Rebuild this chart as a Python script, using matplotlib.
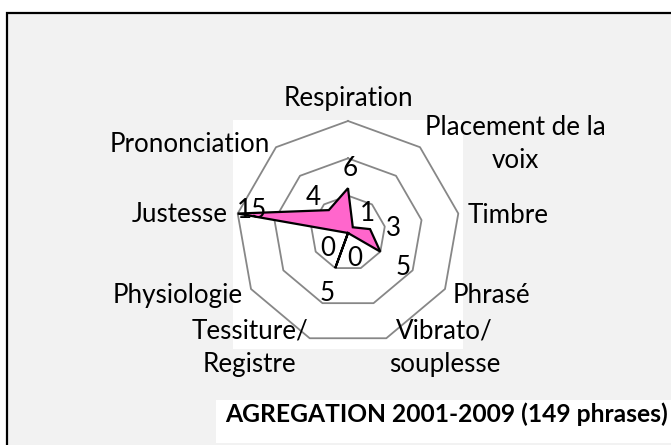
import numpy as np
import matplotlib
matplotlib.use('Agg')
import matplotlib.pyplot as plt
from matplotlib.patches import Rectangle

plt.rcParams['font.family'] = ['Lato', 'DejaVu Sans']

# data, clockwise from the top
categories = ['Respiration', 'Placement de la\nvoix', 'Timbre', 'Phrasé', 'Vibrato/\nsouplesse',
              'Tessiture/\nRegistre', 'Physiologie', 'Justesse', 'Prononciation']
values = [6, 1, 3, 5, 0, 5, 0, 15, 4]
rings = [5, 10, 15]
title = 'AGREGATION 2001-2009 (149 phrases)'

# label offsets in pixels (from outer vertex / from data point), last-line baseline
cat_off = [(0, 15, 'center'), (95, -21, 'center'), (9, -9, 'left'), (8, -14, 'left'),
           (58, -34, 'center'), (-60, -34, 'center'), (-8, -14, 'right'), (-10, -8, 'right'),
           (-6, -5, 'right')]
val_off = [(2, 12), (15, 6), (23, -7), (23, -23), (7, -33), (-8, -33), (-20, -23), (14, -4), (-16, 5)]

W, H = 671, 445
fig = plt.figure(figsize=(W / 100, H / 100), dpi=100, facecolor='white')

# chart area with black frame (right/bottom edges are cut off)
fig.patches.append(Rectangle((7 / W, -0.1), 1.2, 1.1 - 13 / H, transform=fig.transFigure,
                             facecolor='#f2f2f2', edgecolor='black', lw=1.6, zorder=0))
# white plot area
fig.patches.append(Rectangle((233 / W, 1 - 349 / H), 230 / W, 229 / H, transform=fig.transFigure,
                             facecolor='white', edgecolor='none', zorder=0.5))
# white title box
fig.patches.append(Rectangle((216 / W, 1 - 443 / H), 1, 43 / H, transform=fig.transFigure,
                             facecolor='white', edgecolor='none', zorder=0.5))
fig.text(225 / W, 1 - 422 / H, title, ha='left', va='baseline', fontsize=17.7, fontweight='bold')

ax = fig.add_axes([236 / W, 100 / H, 224 / W, 224 / H], projection='polar')
ax.set_zorder(2)
ax.set_theta_zero_location('N')
ax.set_theta_direction(-1)
ax.set_ylim(0, 15)
ax.axis('off')

angles = np.linspace(0, 2 * np.pi, len(values), endpoint=False)
closed = np.append(angles, angles[0])

for r in rings:
    ax.plot(closed, [r] * len(closed), color='#878787', lw=1.3, clip_on=False, zorder=2)

ax.fill(angles, values, facecolor='#ff66cc', edgecolor='black', lw=1.6, zorder=3, clip_on=False)

for a, lab, (dx, dy, ha) in zip(angles, categories, cat_off):
    ax.annotate(lab, xy=(a, 15), xytext=(dx, dy), textcoords='offset pixels', ha=ha,
                va='baseline', fontsize=18.7, linespacing=1.43, annotation_clip=False, zorder=5)

for a, v, (dx, dy) in zip(angles, values, val_off):
    ax.annotate(str(v), xy=(a, v), xytext=(dx, dy), textcoords='offset pixels', ha='center',
                va='baseline', fontsize=18.7, annotation_clip=False, zorder=5)

fig.savefig('out.png', dpi=100, facecolor=fig.get_facecolor())
